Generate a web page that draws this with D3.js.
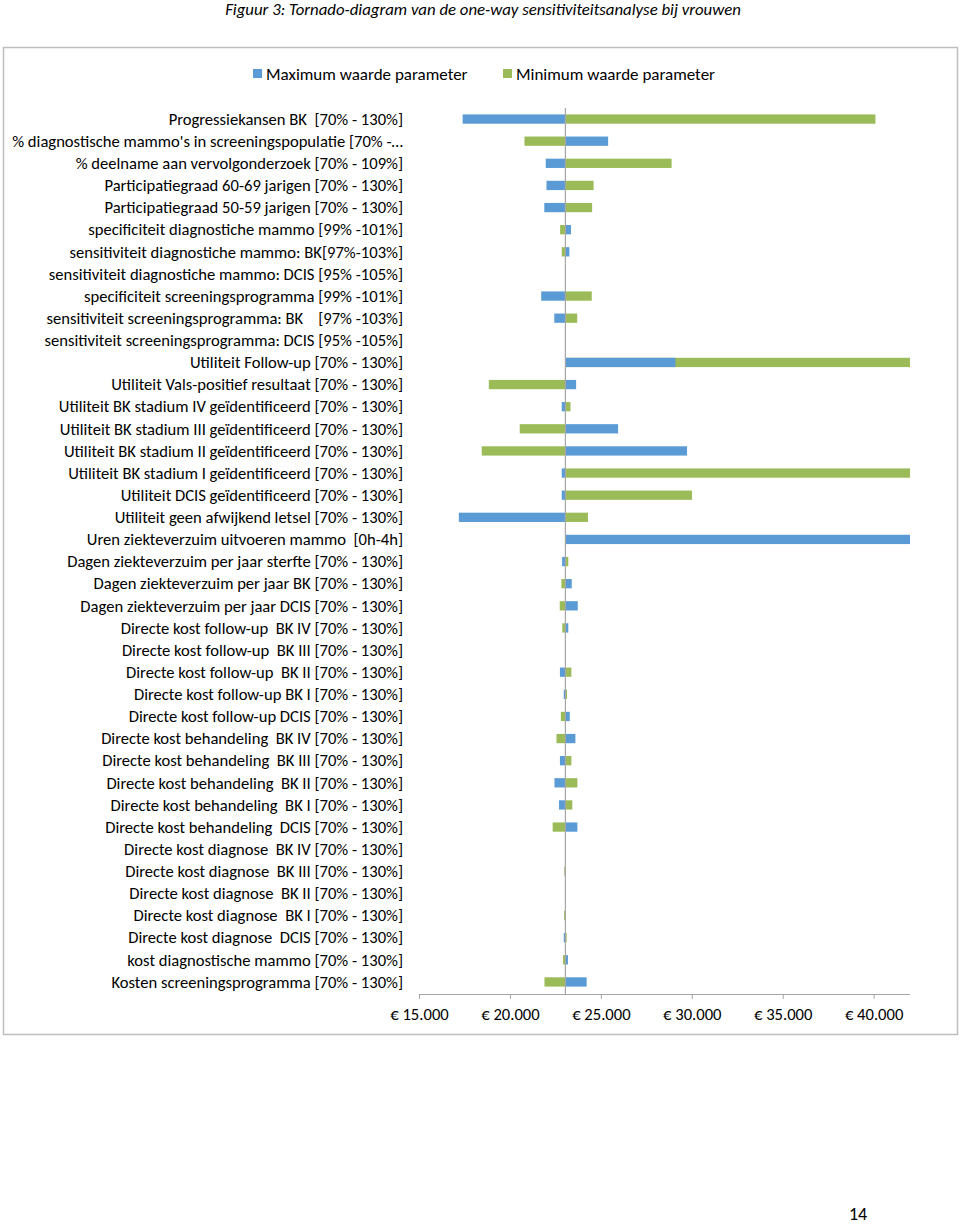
<!DOCTYPE html>
<html><head><meta charset="utf-8">
<script src="https://cdn.jsdelivr.net/npm/d3@7"></script>
<style>
body{margin:0;background:#fff;}
svg text{white-space:pre;}
</style></head>
<body>
<svg id="c" width="960" height="1224"></svg>
<script>
const categories = [
"Progressiekansen BK  [70% - 130%]",
"% diagnostische mammo's in screeningspopulatie [70% -…",
"% deelname aan vervolgonderzoek [70% - 109%]",
"Participatiegraad 60-69 jarigen [70% - 130%]",
"Participatiegraad 50-59 jarigen [70% - 130%]",
"specificiteit diagnostiche mammo [99% -101%]",
"sensitiviteit diagnostiche mammo: BK[97%-103%]",
"sensitiviteit diagnostiche mammo: DCIS [95% -105%]",
"specificiteit screeningsprogramma [99% -101%]",
"sensitiviteit screeningsprogramma: BK    [97% -103%]",
"sensitiviteit screeningsprogramma: DCIS [95% -105%]",
"Utiliteit Follow-up [70% - 130%]",
"Utiliteit Vals-positief resultaat [70% - 130%]",
"Utiliteit BK stadium IV geïdentificeerd [70% - 130%]",
"Utiliteit BK stadium III geïdentificeerd [70% - 130%]",
"Utiliteit BK stadium II geïdentificeerd [70% - 130%]",
"Utiliteit BK stadium I geïdentificeerd [70% - 130%]",
"Utiliteit DCIS geïdentificeerd [70% - 130%]",
"Utiliteit geen afwijkend letsel [70% - 130%]",
"Uren ziekteverzuim uitvoeren mammo  [0h-4h]",
"Dagen ziekteverzuim per jaar sterfte [70% - 130%]",
"Dagen ziekteverzuim per jaar BK [70% - 130%]",
"Dagen ziekteverzuim per jaar DCIS [70% - 130%]",
"Directe kost follow-up  BK IV [70% - 130%]",
"Directe kost follow-up  BK III [70% - 130%]",
"Directe kost follow-up  BK II [70% - 130%]",
"Directe kost follow-up BK I [70% - 130%]",
"Directe kost follow-up DCIS [70% - 130%]",
"Directe kost behandeling  BK IV [70% - 130%]",
"Directe kost behandeling  BK III [70% - 130%]",
"Directe kost behandeling  BK II [70% - 130%]",
"Directe kost behandeling  BK I [70% - 130%]",
"Directe kost behandeling  DCIS [70% - 130%]",
"Directe kost diagnose  BK IV [70% - 130%]",
"Directe kost diagnose  BK III [70% - 130%]",
"Directe kost diagnose  BK II [70% - 130%]",
"Directe kost diagnose  BK I [70% - 130%]",
"Directe kost diagnose  DCIS [70% - 130%]",
"kost diagnostische mammo [70% - 130%]",
"Kosten screeningsprogramma [70% - 130%]"
];
// base-case ICER (where bars start)
const baseValue = 23050;
// ICER at maximum parameter value (blue)
const maxValues = [
17400, 25400, 21970, 22010, 21890, 23360, 23270, 23060, 21720, 22440,
23060, 29100, 23640, 22850, 25950, 29740, 22850, 22850, 17190, 42000,
22870, 23400, 23730, 23210, 23070, 22750, 22960, 23290, 23600, 22750,
22450, 22700, 23710, 23060, 23030, 23060, 23040, 22960, 23190, 24220
];
// ICER at minimum parameter value (green)
const minValues = [
40100, 20800, 28890, 24600, 24520, 22760, 22850, 23040, 24500, 23700,
23040, 42000, 18840, 23330, 20540, 18450, 42000, 30010, 24290, 23050,
23210, 22830, 22740, 22880, 23030, 23380, 23140, 22800, 22560, 23380,
23710, 23430, 22350, 23040, 22990, 23040, 22980, 23120, 22920, 21900
];
const tickValues = [15000, 20000, 25000, 30000, 35000, 40000];
const tickLabels = ["€ 15.000", "€ 20.000", "€ 25.000", "€ 30.000", "€ 35.000", "€ 40.000"];
const seriesNames = ["Maximum waarde parameter", "Minimum waarde parameter"];
const seriesColors = ["#5B9BD5", "#9BBB59"];

const svg = d3.select("#c");
const FONT = "Carlito, Calibri, Lato, 'Open Sans', sans-serif";

// Title
svg.append("text").attr("x", 483).attr("y", 15).attr("text-anchor", "middle")
  .attr("font-family", FONT).attr("font-style", "italic").attr("font-size", 16.8)
  .attr("fill", "#000").text("Figuur 3: Tornado-diagram van de one-way sensitiviteitsanalyse bij vrouwen");

// chart frame
svg.append("rect").attr("x", 3.5).attr("y", 47.5).attr("width", 954).attr("height", 987)
  .attr("fill", "#fff").attr("stroke", "#bfbfbf").attr("stroke-width", 1.5);

const x = d3.scaleLinear().domain([15000, 42000]).range([419, 910]);
const y = d3.scaleBand().domain(categories).range([108, 993]).paddingInner(0.58).paddingOuter(0.29);

const clip = v => Math.max(15000, Math.min(42000, v));

// bars: green (minimum) then blue (maximum) drawn over it
const g = svg.append("g");
const drawSeries = (vals, color) => {
  g.selectAll(null).data(categories).enter().append("rect")
    .attr("x", (d, i) => x(Math.min(baseValue, clip(vals[i]))))
    .attr("width", (d, i) => Math.abs(x(clip(vals[i])) - x(baseValue)))
    .attr("y", d => y(d))
    .attr("height", y.bandwidth())
    .attr("fill", color);
};
drawSeries(minValues, seriesColors[1]);
drawSeries(maxValues, seriesColors[0]);

// vertical base line
svg.append("line").attr("x1", x(baseValue)).attr("x2", x(baseValue))
  .attr("y1", 108).attr("y2", 994).attr("stroke", "#a6a6a6").attr("stroke-width", 1.2);

// category labels
svg.append("g").selectAll("text").data(categories).enter().append("text")
  .attr("x", 403).attr("y", d => y(d) + y.bandwidth() / 2).attr("dy", "0.35em")
  .attr("text-anchor", "end").attr("font-family", FONT).attr("font-size", 16.6)
  .attr("fill", "#000").text(d => d);

// x axis
const axis = d3.axisBottom(x).tickValues(tickValues).tickSize(5)
  .tickFormat((d, i) => tickLabels[i]);
const ax = svg.append("g").attr("transform", "translate(0,994)").call(axis);
ax.select(".domain").attr("stroke", "#a6a6a6").attr("d", "M419,0.5H910");
ax.selectAll(".tick line").attr("stroke", "#a6a6a6");
ax.selectAll(".tick text").attr("font-family", FONT).attr("font-size", 16.6)
  .attr("fill", "#000").attr("y", 14).attr("dy", "0.71em");

// legend
const leg = svg.append("g");
const legX = [253, 503];
seriesNames.forEach((n, i) => {
  leg.append("rect").attr("x", legX[i]).attr("y", 69).attr("width", 9).attr("height", 9).attr("fill", seriesColors[i]);
  leg.append("text").attr("x", legX[i] + 13).attr("y", 74).attr("dy", "0.35em")
    .attr("font-family", FONT).attr("font-size", 17).attr("fill", "#000").text(n);
});

// page number
svg.append("text").attr("x", 858).attr("y", 1220).attr("text-anchor", "middle")
  .attr("font-family", FONT).attr("font-size", 18).attr("fill", "#000").text("14");
</script>
</body></html>
